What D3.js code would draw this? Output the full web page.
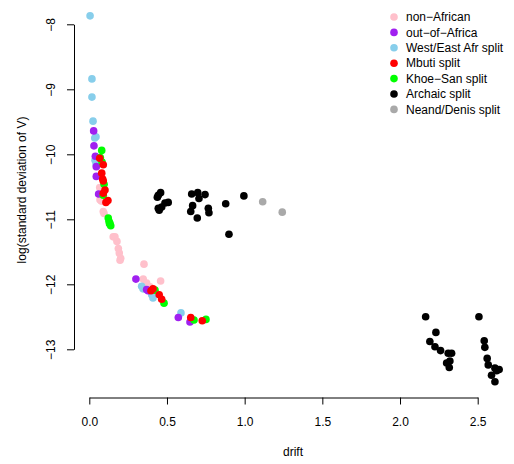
<!DOCTYPE html>
<html lang="en">
<head>
<meta charset="UTF-8">
<script src="https://cdn.jsdelivr.net/npm/d3@7"></script>
<style>
    body { margin: 0; background: white; }
    svg { display: block; font-family: "Liberation Sans", Arial, sans-serif; }
    .axis text { font-size: 12px; fill: black; }
    .axis path, .axis line { stroke: black; }
</style>
</head>
<body>
<script>
    // ---------------- data ----------------
    const groups = ["non-African", "out-of-Africa", "West/East Afr split", "Mbuti split",
                    "Khoe-San split", "Archaic split", "Neand/Denis split"];
    const groupColors = ["#FFC0CB", "#A020F0", "#87CEEB", "#FF0000", "#00FF00", "#000000", "#A9A9A9"];
    const legendLabels = ["non\u2212African", "out\u2212of\u2212Africa", "West/East Afr split", "Mbuti split",
                          "Khoe\u2212San split", "Archaic split", "Neand/Denis split"];

    // [drift, log sd]
    const nonAfrican = [[0.067,-10.51],[0.077,-10.72],[0.069,-10.70],[0.095,-10.91],[0.090,-10.88],
        [0.154,-11.27],[0.165,-11.27],[0.178,-11.34],[0.187,-11.45],[0.193,-11.52],[0.202,-11.60],
        [0.198,-11.63],[0.352,-11.69],[0.459,-11.95],[0.347,-11.92],[0.369,-11.98],[0.391,-12.04],
        [0.403,-12.10],[0.416,-12.15]];
    const westEast = [[0.005,-7.87],[0.017,-8.84],[0.017,-9.12],[0.024,-9.49],[0.035,-9.75],
        [0.043,-9.73],[0.045,-10.14],[0.045,-10.16],[0.037,-10.09],[0.337,-12.03],[0.346,-12.07],
        [0.402,-12.16],[0.41,-12.21],[0.59,-12.44]];
    const outOfAfrica = [[0.028,-9.64],[0.030,-9.87],[0.039,-10.03],[0.045,-10.19],[0.045,-10.34],
        [0.060,-10.61],[0.30,-11.92],[0.369,-12.08],[0.378,-12.10],[0.573,-12.51],[0.648,-12.58]];
    const khoeSan = [[0.080,-9.94],[0.071,-10.05],[0.082,-10.12],[0.095,-10.46],[0.090,-10.63],
        [0.122,-10.98],[0.127,-11.03],[0.133,-11.06],[0.138,-11.10],[0.130,-11.07],[0.423,-12.09],
        [0.481,-12.29],[0.674,-12.55],[0.751,-12.54]];
    const mbuti = [[0.067,-10.06],[0.090,-10.16],[0.080,-10.29],[0.086,-10.38],[0.090,-10.41],
        [0.101,-10.55],[0.090,-10.60],[0.120,-10.71],[0.107,-10.74],[0.397,-12.10],[0.41,-12.07],
        [0.450,-12.16],[0.466,-12.23],[0.653,-12.51],[0.727,-12.56]];
    const archaic = [[0.444,-10.63],[0.459,-10.59],[0.438,-10.66],[0.444,-10.83],[0.466,-10.81],
        [0.487,-10.75],[0.508,-10.74],[0.450,-10.86],[0.659,-10.61],[0.698,-10.59],[0.745,-10.62],
        [0.706,-10.68],[0.665,-10.79],[0.653,-10.88],[0.695,-10.98],[0.766,-10.83],[0.770,-10.90],
        [0.878,-10.76],[0.995,-10.64],[0.899,-11.23],
        [2.165,-12.50],[2.231,-12.74],[2.192,-12.88],[2.225,-12.96],[2.261,-13.02],[2.310,-13.06],
        [2.332,-13.06],[2.321,-13.18],[2.300,-13.21],[2.317,-13.28],
        [2.508,-12.50],[2.542,-12.87],[2.546,-12.97],[2.561,-13.14],[2.568,-13.24],[2.611,-13.29],
        [2.638,-13.31],[2.622,-13.33],[2.589,-13.40],[2.611,-13.50]];
    const neandDenis = [[1.116,-10.73],[1.242,-10.89]];

    const xTicks = [0, 0.5, 1, 1.5, 2, 2.5];
    const yTicks = [-8, -9, -10, -11, -12, -13];

    // drawing order (later on top)
    const layers = [
        {g: 0, pts: nonAfrican},
        {g: 2, pts: westEast},
        {g: 1, pts: outOfAfrica},
        {g: 4, pts: khoeSan},
        {g: 3, pts: mbuti},
        {g: 5, pts: archaic},
        {g: 6, pts: neandDenis}
    ];

    // ---------------- setup ----------------
    const W = 514, H = 464;
    const svg = d3.select("body").append("svg").attr("width", W).attr("height", H);

    const x = d3.scaleLinear().domain([0, 2.5]).range([89.3, 477.7]);
    const y = d3.scaleLinear().domain([-8, -13]).range([24.3, 349.3]);

    const fmtY = d => String(d).replace("-", "\u2212");

    // x axis
    const xAxis = svg.append("g").attr("class", "axis")
        .attr("transform", "translate(0,397.5)")
        .call(d3.axisBottom(x).tickValues(xTicks).tickFormat(d3.format(".1f"))
            .tickSizeOuter(0).tickSizeInner(7).tickPadding(13));
    xAxis.selectAll("text").attr("dy", "0.71em");

    // y axis (labels parallel to axis like R)
    const yAxis = svg.append("g").attr("class", "axis")
        .attr("transform", "translate(74,0)")
        .call(d3.axisLeft(y).tickValues(yTicks).tickFormat(fmtY)
            .tickSizeOuter(0).tickSizeInner(7));
    yAxis.selectAll(".tick text")
        .attr("x", null).attr("dy", null)
        .attr("text-anchor", "middle")
        .attr("transform", "translate(-23,0) rotate(-90)")
        .attr("dy", "0.35em");

    // axis titles
    svg.append("text").attr("x", 293).attr("y", 456)
        .attr("text-anchor", "middle").attr("font-size", 12).text("drift");
    svg.append("text")
        .attr("transform", "translate(26,190) rotate(-90)")
        .attr("text-anchor", "middle").attr("font-size", 12)
        .text("log(standard deviation of V)");

    // points
    layers.forEach(layer => {
        svg.append("g").selectAll("circle")
            .data(layer.pts)
            .enter()
            .append("circle")
            .attr("cx", d => x(d[0]))
            .attr("cy", d => y(d[1]))
            .attr("r", 3.8)
            .attr("fill", groupColors[layer.g]);
    });

    // legend
    const legend = svg.append("g").attr("transform", "translate(394,17)");
    const rows = legend.selectAll("g").data(groups).enter().append("g")
        .attr("transform", (d, i) => `translate(0,${i * 15.4})`);
    rows.append("circle").attr("r", 3.8).attr("fill", (d, i) => groupColors[i]);
    rows.append("text").attr("x", 12).attr("dy", "0.35em").attr("font-size", 12)
        .text((d, i) => legendLabels[i]);
</script>
</body>
</html>
